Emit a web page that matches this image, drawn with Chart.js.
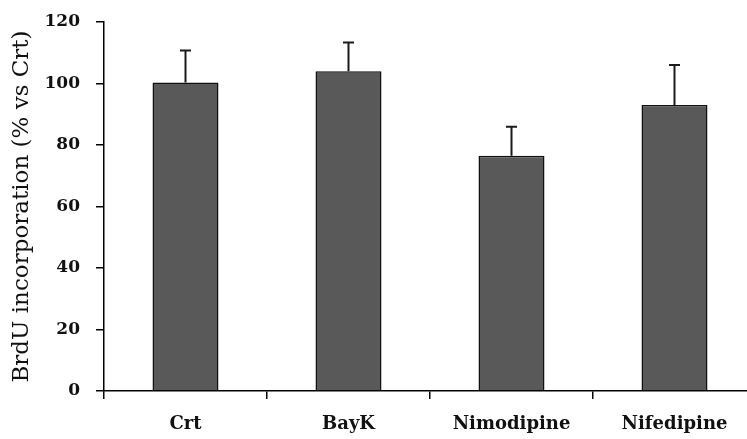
<!DOCTYPE html>
<html>
<head>
<meta charset="utf-8">
<script src="https://cdn.jsdelivr.net/npm/chart.js@4.4.1/dist/chart.umd.min.js"></script>
<style>
  html, body { margin: 0; padding: 0; background: #fff; overflow: hidden; }
  #chart { display: block; }
</style>
</head>
<body>
<canvas id="chart" width="756" height="439"></canvas>
<script>
// BrdU incorporation, % of control
const categories = ['Crt', 'BayK', 'Nimodipine', 'Nifedipine'];
const means = [100.3, 104, 76.5, 93];
const errors = [10.4, 9.3, 9.4, 13];
const yTicks = [0, 20, 40, 60, 80, 100, 120];

const serif = "'DejaVu Serif', 'Liberation Serif', serif";

// draws the upper half of the error bars on top of the bars
const errorBars = {
    id: 'errorBars',
    afterDatasetsDraw: (chart) => {
        const {ctx} = chart;
        const yScale = chart.scales.y;
        const meta = chart.getDatasetMeta(0);
        ctx.save();
        ctx.strokeStyle = '#1a1a1a';
        ctx.lineWidth = 2;
        meta.data.forEach((bar, i) => {
            const x = bar.x;
            const yTop = yScale.getPixelForValue(means[i] + errors[i]);
            const yBase = yScale.getPixelForValue(means[i]);
            ctx.beginPath();
            ctx.moveTo(x, yBase);
            ctx.lineTo(x, yTop);
            ctx.moveTo(x - 5.5, yTop);
            ctx.lineTo(x + 5.5, yTop);
            ctx.stroke();
        });
        ctx.restore();
    }
};

const config = {
    type: 'bar',
    data: {
        labels: categories,
        datasets: [{
            data: means,
            backgroundColor: '#595959',
            borderColor: '#111111',
            borderWidth: 1.5,
            categoryPercentage: 1,
            barPercentage: 0.405
        }]
    },
    options: {
        responsive: false,
        animation: false,
        devicePixelRatio: 1,
        layout: {
            padding: { top: 22, right: 0, left: 0, bottom: 0 }
        },
        plugins: {
            legend: { display: false },
            tooltip: { enabled: false }
        },
        scales: {
            x: {
                grid: {
                    offset: true,
                    drawOnChartArea: false,
                    drawTicks: true,
                    tickLength: 8,
                    color: '#000',
                    lineWidth: 1.5
                },
                border: { color: '#000', width: 1.5 },
                ticks: {
                    color: '#111',
                    padding: 15,
                    font: { family: serif, size: 18, weight: 'bold' }
                },
                afterFit: (scale) => { scale.height = 48; }
            },
            y: {
                min: 0,
                max: 120,
                afterBuildTicks: (scale) => {
                    scale.ticks = yTicks.map(v => ({ value: v }));
                },
                grid: {
                    drawOnChartArea: false,
                    drawTicks: true,
                    tickLength: 8,
                    color: '#000',
                    lineWidth: 1.5
                },
                border: { color: '#000', width: 1.5 },
                ticks: {
                    color: '#111',
                    padding: 16,
                    font: { family: serif, size: 17, weight: 'bold' }
                },
                title: {
                    display: true,
                    text: 'BrdU incorporation (% vs Crt)',
                    color: '#111',
                    padding: { top: 8, bottom: 0 },
                    font: { family: serif, size: 23 }
                },
                afterFit: (scale) => {
                    scale.width = 104;
                    // tick padding should not push the plot top down
                    scale.paddingTop = 10;
                }
            }
        }
    },
    plugins: [errorBars]
};

const myChart = new Chart(document.getElementById('chart'), config);
</script>
</body>
</html>
